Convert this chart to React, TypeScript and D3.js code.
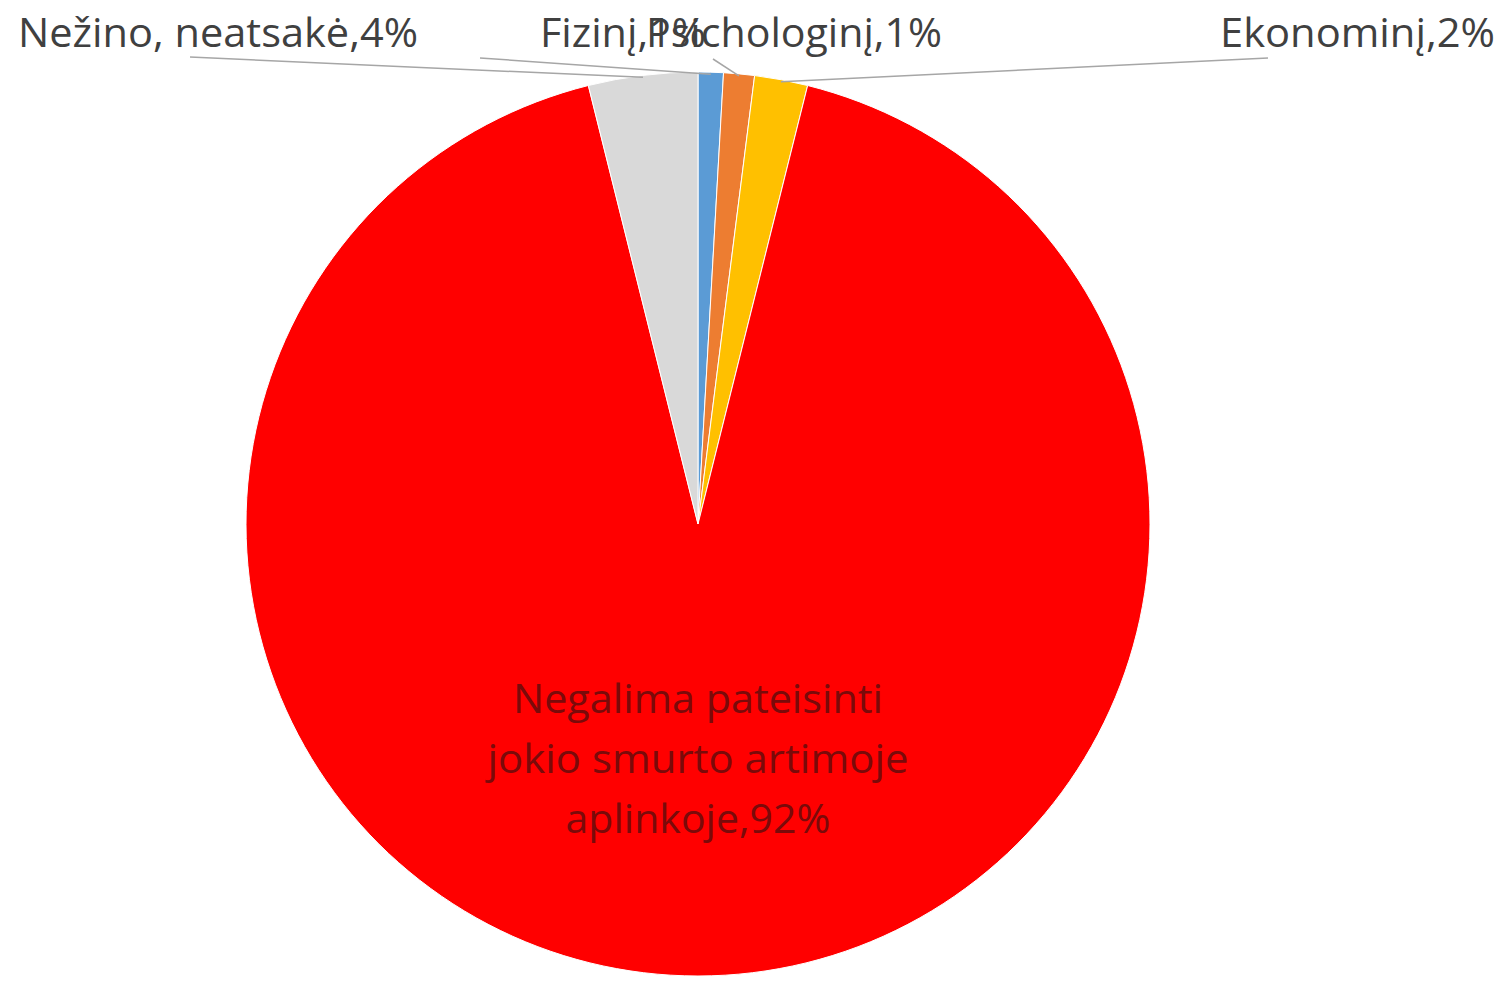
import React from "react";
import * as d3 from "d3";

const categories = [
  "Fizinį",
  "Psichologinį",
  "Ekonominį",
  "Negalima pateisinti jokio smurto artimoje aplinkoje",
  "Nežino, neatsakė",
];
const values = [0.9, 1.1, 1.9, 92.2, 3.9];
const shownPercents = ["1%", "1%", "2%", "92%", "4%"];
const colors = ["#5B9BD5", "#ED7D31", "#FFC000", "#FF0000", "#D9D9D9"];

const W = 1502;
const H = 981;
const CX = 698;
const CY = 524;
const R = 452;
const FONT = "'Open Sans', 'Noto Sans', sans-serif";
const FS = 41;

// outside labels: x (start), baseline y, target length, leader start
const outsideLabels: Record<number, { x: number; y: number; len: number; lx: number; ly: number }> = {
  0: { x: 540, y: 47, len: 166, lx: 480, ly: 58 },
  1: { x: 646, y: 47, len: 296, lx: 713, ly: 59 },
  2: { x: 1220, y: 47, len: 275, lx: 1268, ly: 58 },
  4: { x: 18, y: 47, len: 400, lx: 190, ly: 57 },
};

const innerLines = [
  { text: "Negalima pateisinti", len: 370 },
  { text: "jokio smurto artimoje", len: 421 },
  { text: "aplinkoje,92%", len: 265 },
];

export default function App() {
  const pie = d3
    .pie<number>()
    .sort(null)
    .value((d) => d)
    .startAngle(0)
    .endAngle(2 * Math.PI);
  const arcs = pie(values);
  const arcGen = d3.arc<d3.PieArcDatum<number>>().innerRadius(0).outerRadius(R);
  const edgeArc = d3.arc<d3.PieArcDatum<number>>().innerRadius(R - 2).outerRadius(R - 2);

  return (
    <svg
      width={W}
      height={H}
      style={{ position: "absolute", left: 0, top: 0, background: "#fff" }}
    >
      <g transform={`translate(${CX},${CY})`}>
        {arcs.map((a, i) => (
          <path key={i} d={arcGen(a) || ""} fill={colors[i]} stroke="#fff" strokeWidth={1} />
        ))}
      </g>
      {arcs.map((a, i) => {
        const lab = outsideLabels[i];
        if (!lab) return null;
        const [ex, ey] = edgeArc.centroid(a);
        return (
          <line
            key={"l" + i}
            x1={lab.lx}
            y1={lab.ly}
            x2={CX + ex}
            y2={CY + ey}
            stroke="#A6A6A6"
            strokeWidth={1.5}
          />
        );
      })}
      {arcs.map((a, i) => {
        const lab = outsideLabels[i];
        if (!lab) return null;
        return (
          <text
            key={"t" + i}
            x={lab.x}
            y={lab.y}
            fontFamily={FONT}
            fontSize={FS}
            fill="#404040"
            textLength={lab.len}
            lengthAdjust="spacingAndGlyphs"
          >
            {categories[i] + "," + shownPercents[i]}
          </text>
        );
      })}
      {innerLines.map((l, k) => (
        <text
          key={"in" + k}
          x={CX}
          y={713 + k * 60}
          textAnchor="middle"
          fontFamily={FONT}
          fontSize={FS}
          fill="#7A0A0A"
          textLength={l.len}
          lengthAdjust="spacingAndGlyphs"
        >
          {l.text}
        </text>
      ))}
    </svg>
  );
}
